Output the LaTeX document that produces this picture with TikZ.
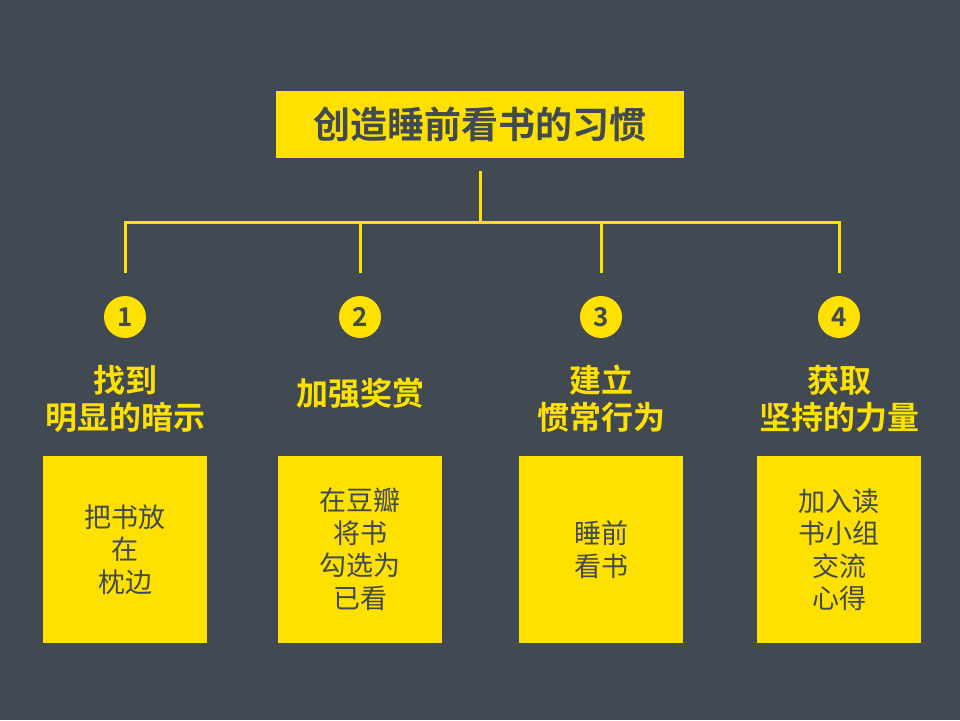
\documentclass[tikz,border=0pt]{standalone}
\usepackage{fontspec}
\newfontfamily\cjk{Noto Sans CJK SC}[BoldFont={Noto Sans CJK SC Bold}]
\definecolor{bg}{HTML}{414A53}
\definecolor{yel}{HTML}{FFE100}
\begin{document}
\begin{tikzpicture}[x=1pt,y=-1pt,
  titlebox/.style={fill=yel,text=bg,minimum width=408pt,minimum height=67pt,inner sep=0pt,font={\cjk\bfseries\fontsize{37}{44}\selectfont}},
  conn/.style={draw=yel,line width=3pt},
  numcirc/.style={circle,fill=yel,text=bg,minimum size=42pt,inner sep=0pt,font={\cjk\bfseries\fontsize{26}{30}\selectfont}},
  heading/.style={text=yel,align=center,inner sep=0pt,font={\cjk\bfseries\fontsize{32}{37}\selectfont}},
  infobox/.style={fill=yel,text=bg,minimum width=164pt,minimum height=187pt,inner sep=0pt,align=center,font={\cjk\fontsize{27}{32.5}\selectfont}}
]
\fill[bg] (0,0) rectangle (960,720);
\useasboundingbox (0,0) rectangle (960,720);

\node[titlebox] (title) at (480,124.5) {创造睡前看书的习惯};

\coordinate (top) at (480,171);
\coordinate (hub) at (480,222);
\coordinate (h1) at (125,222);
\coordinate (h2) at (360,222);
\coordinate (h3) at (601,222);
\coordinate (h4) at (839,222);
\coordinate (e1) at (125,273);
\coordinate (e2) at (360,273);
\coordinate (e3) at (601,273);
\coordinate (e4) at (839,273);

\draw[conn] (top) -- (hub);
\draw[conn] ([xshift=-1.5pt]h1) -- ([xshift=1.5pt]h4);
\draw[conn] (h1) -- (e1);
\draw[conn] (h2) -- (e2);
\draw[conn] (h3) -- (e3);
\draw[conn] (h4) -- (e4);

\node[numcirc] (n1) at (125,317) {1};
\node[numcirc] (n2) at (360,317) {2};
\node[numcirc] (n3) at (601,317) {3};
\node[numcirc] (n4) at (839,317) {4};

\node[heading] (t1) at (125,399) {找到\\明显的暗示};
\node[heading] (t2) at (360,393) {加强奖赏};
\node[heading] (t3) at (601,399) {建立\\惯常行为};
\node[heading] (t4) at (839,399) {获取\\坚持的力量};

\node[infobox] (b1) at (125,549.5) {把书放\\在\\枕边};
\node[infobox] (b2) at (360,549.5) {在豆瓣\\将书\\勾选为\\已看};
\node[infobox] (b3) at (601,549.5) {睡前\\看书};
\node[infobox] (b4) at (839,549.5) {加入读\\书小组\\交流\\心得};
\end{tikzpicture}
\end{document}
